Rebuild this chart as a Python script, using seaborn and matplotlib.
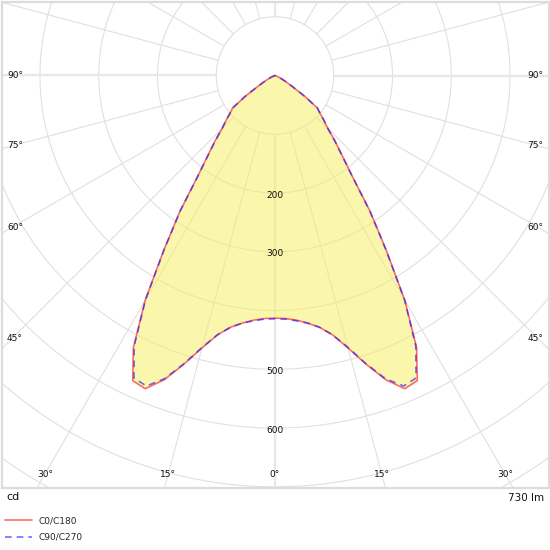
import numpy as np
import pandas as pd
import matplotlib
matplotlib.use("Agg")
import matplotlib.pyplot as plt
import seaborn as sns

# ---------------- data ----------------
gamma_deg = [0, 2.5, 5, 7.5, 10, 12.5, 15, 17.5, 20, 22.5, 25, 27.5, 30, 32.5,
             35, 37.5, 40, 42.5, 45, 47.5, 50, 52.5, 55, 57.5, 60, 62.5, 65,
             67.5, 70, 75, 80, 85, 90]
c0_c180 = [413, 414, 418, 425, 435, 452, 480, 515, 551, 577, 573, 522, 442, 352,
           282, 216, 178, 151, 127, 113, 100, 91, 62, 35, 22, 14, 8,
           4, 2, 0, 0, 0, 0]
c90_c270 = [414, 415, 419, 425, 435, 452, 479, 514, 549, 572, 568, 519, 441, 351,
            281, 215, 177, 150, 127, 113, 100, 91, 62, 35, 22, 14, 8,
            4, 2, 0, 0, 0, 0]
series_names = ["C0/C180", "C90/C270"]
ring_values = [100, 200, 300, 400, 500, 600, 700, 800, 900]
ring_labels = [200, 300, 500, 600]
side_angle_labels = [45, 60, 75, 90]
bottom_angle_labels = [0, 15, 30]
unit_label = "cd"
flux_label = "730 lm"

# ---------------- layout ----------------
W = H = 550
DPI = 100
scale = 0.5876            # px per cd
cx, cy = 275.0, 75.5      # pixel position of the origin
box_l, box_r, box_t, box_b = 1.5, 548.5, 1.5, 487.5

sns.set_style("white")
plt.rcParams["font.family"] = ["DejaVu Sans"]

fig = plt.figure(figsize=(W / DPI, H / DPI), dpi=DPI)
ax = fig.add_axes([box_l / W, (H - box_b) / H, (box_r - box_l) / W, (box_b - box_t) / H])
xlim = ((box_l - cx) / scale, (box_r - cx) / scale)
ylim = ((cy - box_b) / scale, (cy - box_t) / scale)
ax.set_xlim(*xlim)
ax.set_ylim(*ylim)
ax.set_xticks([])
ax.set_yticks([])
for sp in ax.spines.values():
    sp.set_color("#dcdcdc")
    sp.set_linewidth(1.6)

# ---------------- grid ----------------
grid_col = "#e0e0e0"
t = np.linspace(0, 2 * np.pi, 721)
for r in ring_values:
    ax.plot(r * np.cos(t), r * np.sin(t), color=grid_col, lw=0.8, zorder=1)
for a in range(0, 360, 15):
    ar = np.deg2rad(a)
    lw = 1.6 if a % 90 == 0 else 0.8
    col = "#e8e8e8" if a % 90 == 0 else grid_col
    ax.plot([100 * np.sin(ar), 1200 * np.sin(ar)], [-100 * np.cos(ar), -1200 * np.cos(ar)],
            color=col, lw=lw, zorder=1)


# ---------------- curves ----------------
def curve_xy(values):
    g = np.deg2rad(np.array(gamma_deg))
    v = np.array(values, dtype=float)
    xl = -(v * np.sin(g))[::-1]
    yl = -(v * np.cos(g))[::-1]
    xr = (v * np.sin(g))[1:]
    yr = -(v * np.cos(g))[1:]
    return np.concatenate([xl, xr]), np.concatenate([yl, yr])


x0, y0 = curve_xy(c0_c180)
x1, y1 = curve_xy(c90_c270)

ax.fill(x0, y0, color="#f7ef5a", alpha=0.5, lw=0, zorder=2)

df0 = pd.DataFrame({"x": x0, "y": y0})
df1 = pd.DataFrame({"x": x1, "y": y1})
sns.lineplot(data=df0, x="x", y="y", sort=False, estimator=None, ax=ax,
             color="#ff2020", alpha=0.65, lw=1.2, label=series_names[0], zorder=3)
sns.lineplot(data=df1, x="x", y="y", sort=False, estimator=None, ax=ax,
             color="#2020ff", alpha=0.65, lw=1.2, linestyle=(0, (4, 3)),
             label=series_names[1], zorder=4)
ax.set_xlabel("")
ax.set_ylabel("")

# ---------------- labels ----------------
fs = 6.5
txt_col = "#111111"
lab_drop = 2.0 / scale
for r in ring_labels:
    ax.text(0, -r - lab_drop, str(r), ha="center", va="center", fontsize=fs, color=txt_col, zorder=5)

side_x = (cx - 12.5) / scale      # distance of side label centres from the axis
inset_x = 5.5 / scale
for a in side_angle_labels:
    ar = np.deg2rad(a)
    yy = -(side_x / np.tan(ar)) if a < 90 else 0.0
    ax.text(xlim[0] + inset_x, yy, f"{a}°", ha="left", va="center", fontsize=fs, color=txt_col, zorder=5)
    ax.text(xlim[1] - inset_x, yy, f"{a}°", ha="right", va="center", fontsize=fs, color=txt_col, zorder=5)

inset_y = 13.5 / scale
for a in bottom_angle_labels:
    ar = np.deg2rad(a)
    yy = ylim[0] + inset_y
    xx = abs(yy) * np.tan(ar)
    ax.text(xx, yy, f"{a}°", ha="center", va="center", fontsize=fs, color=txt_col, zorder=5)
    if a != 0:
        ax.text(-xx, yy, f"{a}°", ha="center", va="center", fontsize=fs, color=txt_col, zorder=5)

fig.text(6 / W, 1 - 497.5 / H, unit_label, ha="left", va="center", fontsize=8, color=txt_col)
fig.text(544 / W, 1 - 498 / H, flux_label, ha="right", va="center", fontsize=7.5, color=txt_col)

handles, labels = ax.get_legend_handles_labels()
ax.get_legend().remove()
fig.legend(handles, labels, loc="upper left", bbox_to_anchor=(5 / W, 1 - 516 / H),
           frameon=False, fontsize=fs, handlelength=3.0, handletextpad=0.7,
           labelspacing=0.85, borderaxespad=0, borderpad=0)

fig.savefig("out.png", dpi=DPI)
